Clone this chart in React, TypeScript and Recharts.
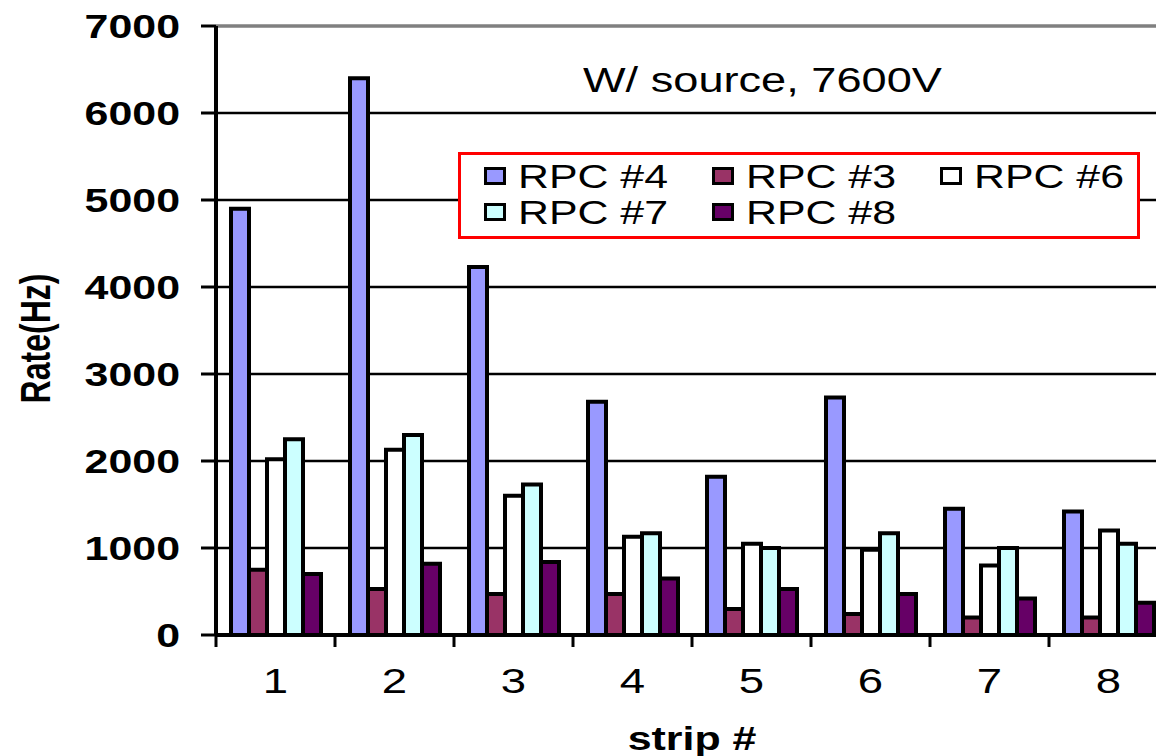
import React from 'react';
import {
  Bar,
  BarChart,
  CartesianGrid,
  Legend,
  ReferenceLine,
  XAxis,
  YAxis,
} from 'recharts';

const strips = ['1', '2', '3', '4', '5', '6', '7', '8'];
const rpc4 = [4900, 6400, 4230, 2680, 1820, 2730, 1450, 1420];
const rpc3 = [750, 530, 470, 470, 300, 240, 200, 200];
const rpc6 = [2020, 2130, 1600, 1130, 1050, 980, 800, 1200];
const rpc7 = [2250, 2300, 1730, 1170, 1000, 1170, 1000, 1050];
const rpc8 = [700, 820, 840, 650, 530, 470, 420, 370];
const yTicks = [0, 1000, 2000, 3000, 4000, 5000, 6000, 7000];

const series = [
  { key: 'rpc4', name: 'RPC #4', fill: '#9999FF' },
  { key: 'rpc3', name: 'RPC #3', fill: '#993366' },
  { key: 'rpc6', name: 'RPC #6', fill: '#FFFFFF' },
  { key: 'rpc7', name: 'RPC #7', fill: '#CCFFFF' },
  { key: 'rpc8', name: 'RPC #8', fill: '#660066' },
];

const data = strips.map((strip, i) => ({
  strip,
  rpc4: rpc4[i],
  rpc3: rpc3[i],
  rpc6: rpc6[i],
  rpc7: rpc7[i],
  rpc8: rpc8[i],
}));

const W = 1170;
const H = 756;
const AXIS_W = 216;
const RIGHT = 2;
const STEP = (W - AXIS_W - RIGHT) / strips.length;
const FONT = '"Liberation Sans", Arial, sans-serif';

function YTick({ x, y, payload }: any) {
  return (
    <text
      transform={`translate(${x},${y}) scale(1.3,1)`}
      textAnchor="end"
      dy="0.36em"
      fontFamily={FONT}
      fontSize={33}
      fontWeight="bold"
      fill="#000"
    >
      {payload.value}
    </text>
  );
}

function XTick({ x, y, payload, index }: any) {
  const last = index === strips.length - 1;
  return (
    <g>
      <line x1={x - STEP / 2} y1={y} x2={x - STEP / 2} y2={y + 12} stroke="#000" strokeWidth={3} />
      {last && <line x1={x + STEP / 2} y1={y} x2={x + STEP / 2} y2={y + 12} stroke="#000" strokeWidth={3} />}
      <text
        transform={`translate(${x},${y + 58}) scale(1.3,1)`}
        textAnchor="middle"
        fontFamily={FONT}
        fontSize={35}
        fill="#000"
      >
        {payload.value}
      </text>
    </g>
  );
}

function XLabel({ viewBox }: any) {
  const cx = viewBox.x + viewBox.width / 2;
  return (
    <text
      transform={`translate(${cx},${viewBox.y + 115}) scale(1.3,1)`}
      textAnchor="middle"
      fontFamily={FONT}
      fontSize={33}
      fontWeight="bold"
      fill="#000"
    >
      strip #
    </text>
  );
}

function YLabel({ viewBox }: any) {
  const cy = viewBox.y + viewBox.height / 2 + 8;
  return (
    <text
      transform={`translate(35,${cy}) scale(1.3,1) rotate(-90)`}
      textAnchor="middle"
      dy="0.36em"
      fontFamily={FONT}
      fontSize={32}
      fontWeight="bold"
      fill="#000"
    >
      Rate(Hz)
    </text>
  );
}

function LegendBox({ payload }: any) {
  const items = series.map((s) => (payload || []).find((p: any) => p.value === s.name) || { value: s.name, color: s.fill });
  return (
    <div
      style={{
        boxSizing: 'border-box',
        width: 682,
        height: 87,
        border: '3px solid #FF0000',
        background: '#FFFFFF',
        display: 'grid',
        gridTemplateColumns: '228px 228px 200px',
        gridAutoRows: '36px',
        paddingLeft: 23,
        paddingTop: 3,
      }}
    >
      {items.map((entry: any) => (
        <div key={entry.value} style={{ display: 'flex', alignItems: 'center' }}>
          <span
            style={{
              boxSizing: 'border-box',
              width: 22,
              height: 18,
              border: '3px solid #000',
              background: entry.color,
              flex: 'none',
            }}
          />
          <span
            style={{
              display: 'inline-block',
              marginLeft: 12,
              fontFamily: FONT,
              fontSize: 34,
              lineHeight: '34px',
              color: '#000',
              whiteSpace: 'nowrap',
              transform: 'scaleX(1.26)',
              transformOrigin: 'left center',
            }}
          >
            {entry.value}
          </span>
        </div>
      ))}
    </div>
  );
}

export default function App() {
  return (
    <div style={{ position: 'absolute', left: 0, top: 0, width: 1156, height: 756, overflow: 'hidden', background: '#fff' }}>
      <BarChart
        width={W}
        height={H}
        data={data}
        margin={{ top: 26, right: RIGHT, left: 0, bottom: 0 }}
        barCategoryGap={15}
        barGap={0}
      >
        <CartesianGrid vertical={false} stroke="#000" strokeWidth={2.5} />
        <XAxis
          dataKey="strip"
          height={H - 26 - 609}
          interval={0}
          tickSize={0}
          tickMargin={0}
          tickLine={false}
          axisLine={{ stroke: '#000', strokeWidth: 4 }}
          tick={<XTick />}
          label={(props: any) => <XLabel {...props} />}
        />
        <YAxis
          width={AXIS_W}
          domain={[0, 7000]}
          ticks={yTicks}
          interval={0}
          tickSize={15}
          tickMargin={21}
          tickLine={{ stroke: '#000', strokeWidth: 3 }}
          axisLine={{ stroke: '#000', strokeWidth: 4 }}
          tick={<YTick />}
          label={(props: any) => <YLabel {...props} />}
        />
        <ReferenceLine y={7000} stroke="#808080" strokeWidth={3} />
        {series.map((s) => (
          <Bar
            key={s.key}
            dataKey={s.key}
            name={s.name}
            fill={s.fill}
            stroke="#000"
            strokeWidth={4}
            isAnimationActive={false}
          />
        ))}
        <Legend
          layout="horizontal"
          verticalAlign="middle"
          align="center"
          content={<LegendBox />}
          wrapperStyle={{ position: 'absolute', left: 458, top: 152, width: 682, height: 87 }}
        />
      </BarChart>
      <div
        style={{
          position: 'absolute',
          left: 583,
          top: 62,
          fontFamily: FONT,
          fontSize: 35,
          lineHeight: '35px',
          color: '#000',
          whiteSpace: 'nowrap',
          transform: 'scaleX(1.29)',
          transformOrigin: 'left top',
        }}
      >
        W/ source, 7600V
      </div>
    </div>
  );
}
